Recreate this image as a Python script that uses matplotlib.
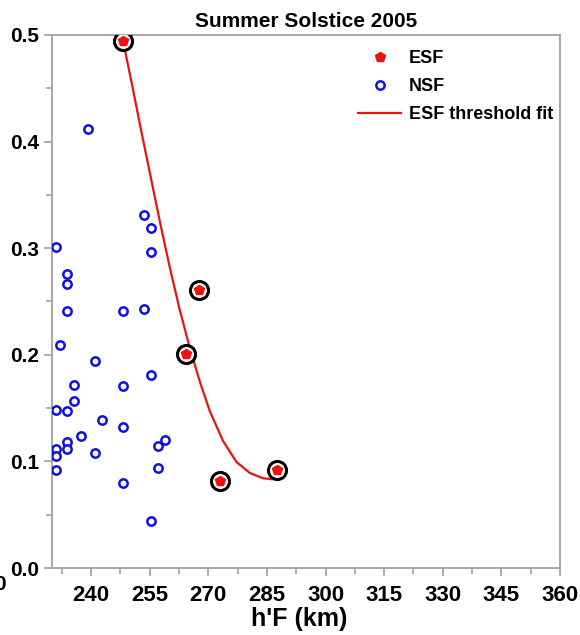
import numpy as np
import matplotlib
matplotlib.use('Agg')
import matplotlib.pyplot as plt
from matplotlib.ticker import MultipleLocator, FormatStrFormatter

plt.rcParams['font.family'] = ['Liberation Sans', 'DejaVu Sans']
plt.rcParams['font.weight'] = 'bold'

# ESF events (h'F in km, value)
esf_hf = [248.2, 267.7, 264.2, 273.0, 287.5]
esf_val = [0.494, 0.261, 0.201, 0.082, 0.092]

# NSF nights
nsf_hf = [239.3, 253.5, 255.3, 255.3, 230.9, 233.9, 233.9, 233.9, 248.2, 253.5,
          232.0, 241.1, 255.3, 248.2, 235.6, 235.6, 230.9, 233.9, 242.8, 248.2,
          237.4, 258.8, 257.1, 233.9, 233.9, 230.9, 230.9, 241.1, 230.9, 257.1,
          248.2, 255.3]
nsf_val = [0.412, 0.331, 0.319, 0.296, 0.301, 0.276, 0.266, 0.241, 0.241, 0.243,
           0.209, 0.194, 0.181, 0.171, 0.172, 0.157, 0.148, 0.147, 0.139, 0.132,
           0.124, 0.120, 0.114, 0.118, 0.112, 0.112, 0.105, 0.108, 0.092, 0.094,
           0.080, 0.044]

# threshold fit curve
fit_hf = [248.2, 250.5, 253.0, 255.3, 257.6, 260.2, 262.7, 265.3, 267.9, 270.4,
          273.8, 277.2, 280.6, 284.0, 286.4]
fit_val = [0.494, 0.453, 0.407, 0.366, 0.325, 0.281, 0.242, 0.206, 0.174, 0.147,
           0.119, 0.0995, 0.0892, 0.0842, 0.0832]

SPINE = '#a0a0a0'

fig = plt.figure(figsize=(5.8, 6.35), dpi=100)
ax = fig.add_axes([0.0897, 0.1055, 0.8758, 0.8394])

ax.plot(fit_hf, fit_val, color='#e8140f', linewidth=1.6, zorder=2,
        solid_joinstyle='round', label='ESF threshold fit')
ax.plot(nsf_hf, nsf_val, linestyle='none', marker='o', markersize=6,
        markerfacecolor='white', markeredgecolor='#1010e0', markeredgewidth=1.8,
        zorder=3, label='NSF')
# black rings around ESF points
ax.plot(esf_hf, esf_val, linestyle='none', marker='o', markersize=13,
        markerfacecolor='white', markeredgecolor='black', markeredgewidth=2.2,
        zorder=4)
ax.plot(esf_hf, esf_val, linestyle='none', marker='p', markersize=7,
        color='#f01010', zorder=5, label='ESF')

ax.set_xlim(230, 360)
ax.set_ylim(0, 0.5)
ax.set_xticks(np.arange(240, 361, 15))
ax.xaxis.set_minor_locator(MultipleLocator(7.5))
ax.yaxis.set_major_locator(MultipleLocator(0.1))
ax.yaxis.set_minor_locator(MultipleLocator(0.05))
ax.yaxis.set_major_formatter(FormatStrFormatter('%.1f'))

for s in ax.spines.values():
    s.set_color(SPINE)
    s.set_linewidth(1.3)

ax.tick_params(which='both', direction='out', color=SPINE, width=1.2)
ax.tick_params(which='major', length=6)
ax.tick_params(which='minor', length=4)
ax.tick_params(axis='x', labelsize=16, pad=6)
ax.tick_params(axis='y', labelsize=15, pad=3)
for lab in ax.get_xticklabels() + ax.get_yticklabels():
    lab.set_fontweight('bold')

ax.set_title('Summer Solstice 2005', fontsize=15, fontweight='bold', pad=6)
ax.set_xlabel("h'F (km)", fontsize=18, fontweight='bold', labelpad=1, x=0.486)

handles, labels = ax.get_legend_handles_labels()
order = [2, 1, 0]
ax.legend([handles[i] for i in order], [labels[i] for i in order],
          loc='upper right', bbox_to_anchor=(1.0, 0.985), frameon=False,
          handlelength=2.4, handletextpad=0.4, labelspacing=0.6,
          borderaxespad=0.0, prop={'weight': 'bold', 'size': 13})

# clipped remnant of a neighbouring label at the left edge
fig.text(0.0, 0.079, '0', fontsize=15, fontweight='bold', ha='center', va='center')

fig.savefig('out.png', dpi=100, facecolor='white')
